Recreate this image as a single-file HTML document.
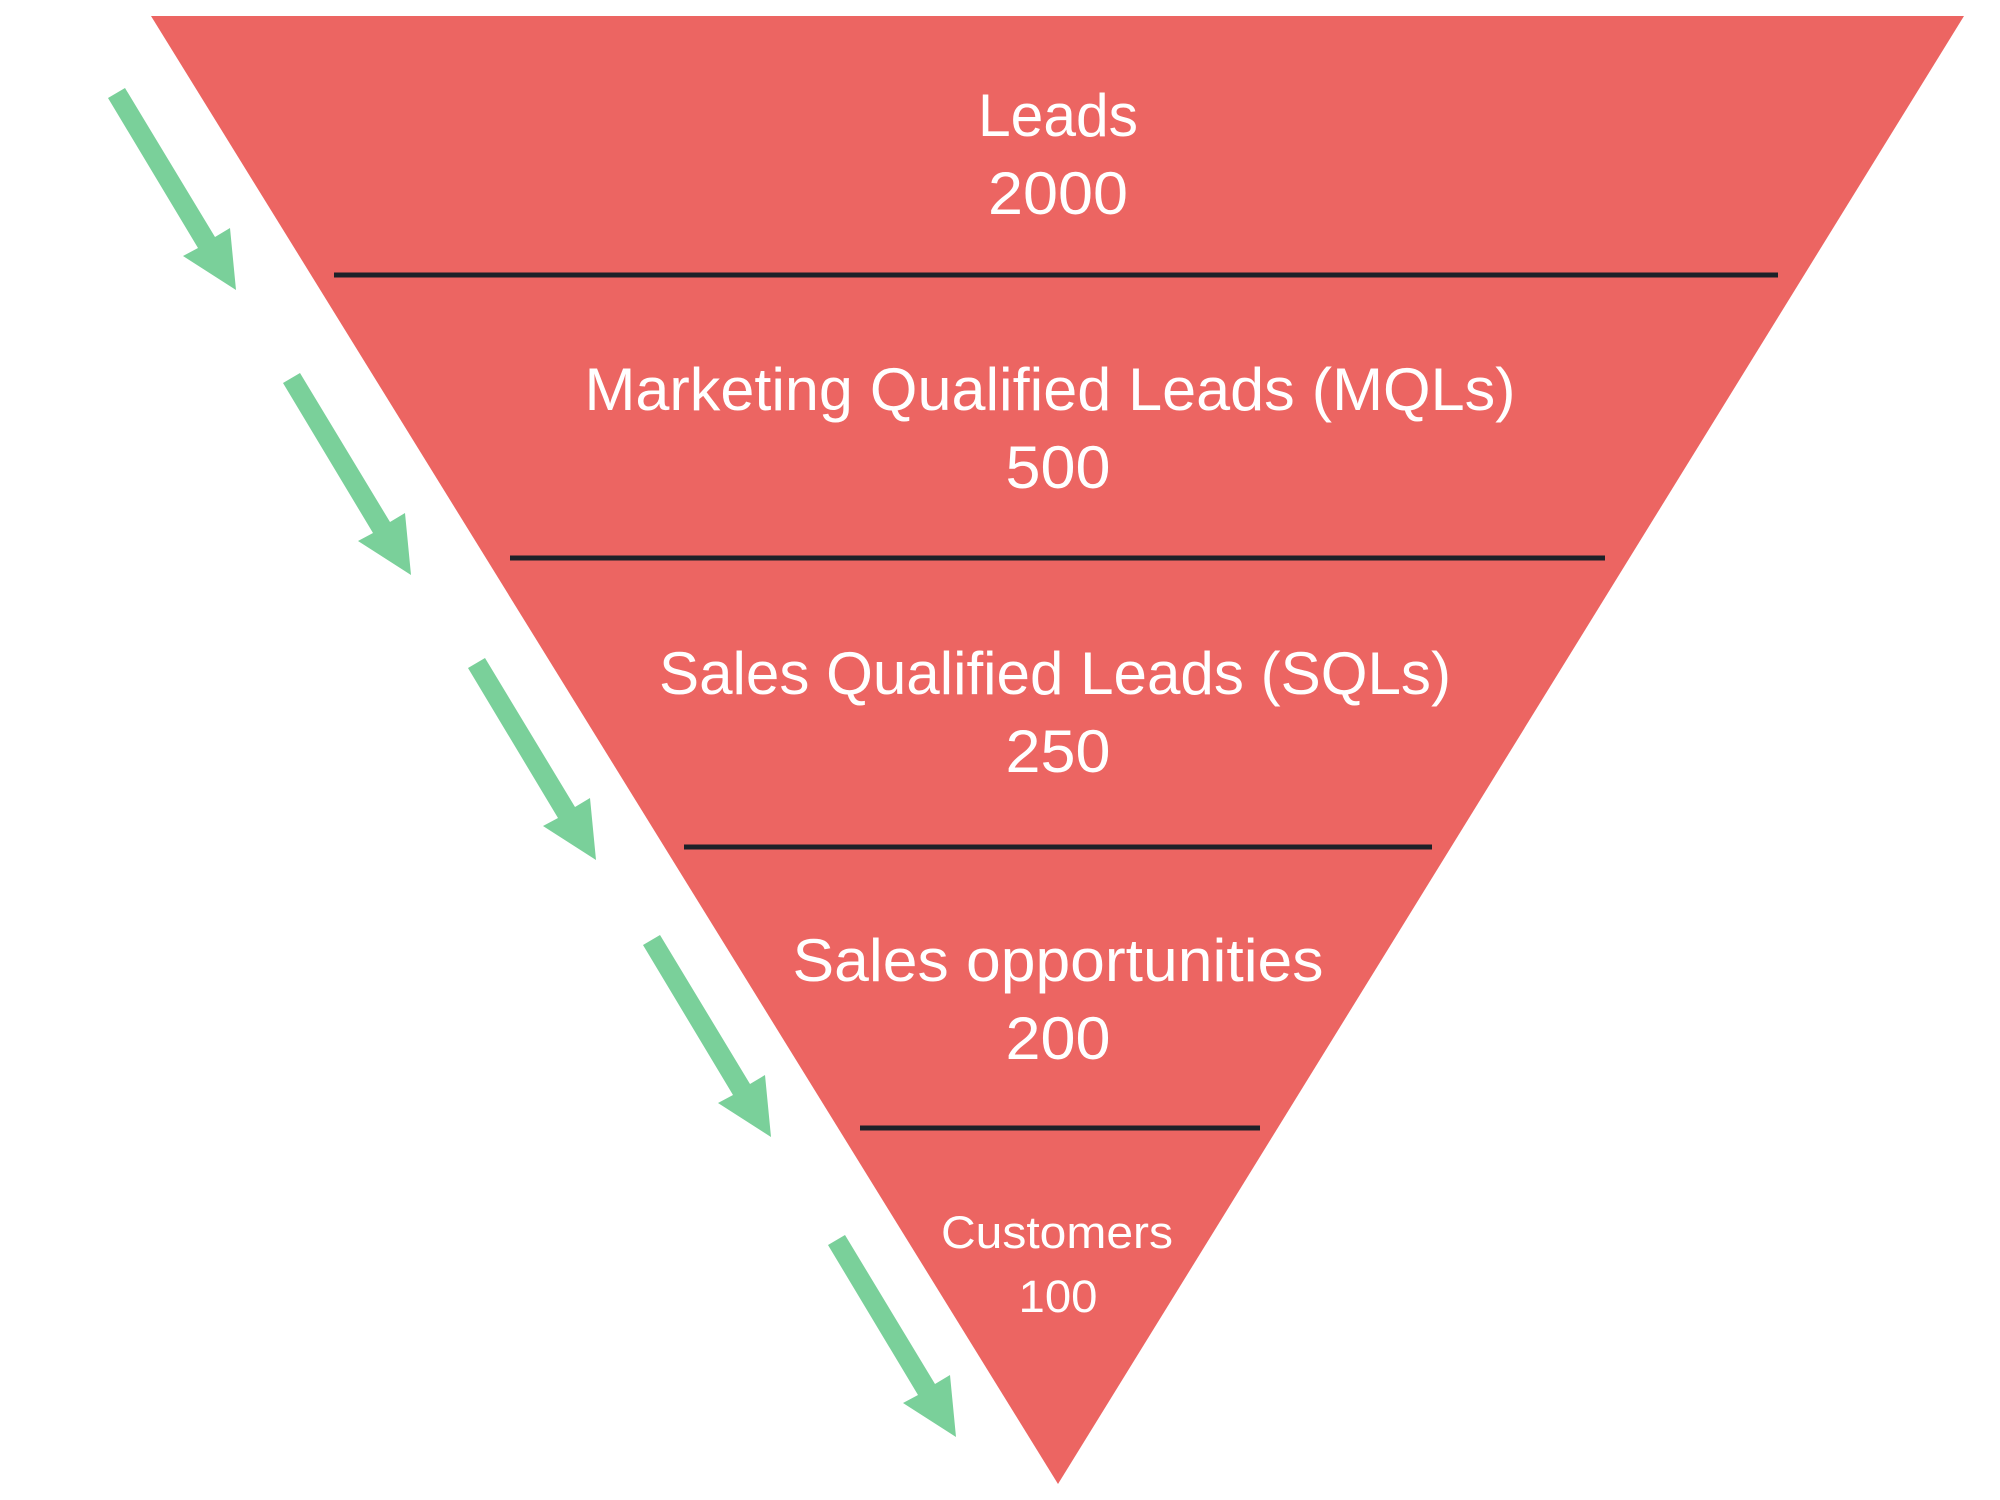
<!DOCTYPE html>
<html><head><meta charset="utf-8"><style>html,body{margin:0;padding:0;background:#fff}svg{display:block}</style></head>
<body>
<svg width="2000" height="1500" viewBox="0 0 2000 1500" xmlns="http://www.w3.org/2000/svg">
<polygon points="151,16 1964,16 1058,1484" fill="#EC6562"/>
<g stroke="#1D2128" stroke-width="5">
<line x1="334" y1="275" x2="1778" y2="275"/>
<line x1="510" y1="558" x2="1605" y2="558"/>
<line x1="684" y1="847" x2="1432" y2="847"/>
<line x1="860" y1="1128" x2="1260" y2="1128"/>
</g>
<g fill="#7AD09A">
<polygon id="a" points="108,98 198,248 183,256 236,290 230,228 215,237 125,88"/>
<use href="#a" x="175" y="285"/>
<use href="#a" x="360" y="570"/>
<use href="#a" x="535" y="847"/>
<use href="#a" x="720" y="1147"/>
</g>
<g fill="#fff" font-family="Liberation Sans, sans-serif" text-anchor="middle">
<text x="1058" y="136" font-size="60" textLength="160" lengthAdjust="spacingAndGlyphs">Leads</text>
<text x="1058" y="214" font-size="60" textLength="140" lengthAdjust="spacingAndGlyphs">2000</text>
<text x="1050" y="410" font-size="60" textLength="931" lengthAdjust="spacingAndGlyphs">Marketing Qualified Leads (MQLs)</text>
<text x="1058" y="488" font-size="60" textLength="105" lengthAdjust="spacingAndGlyphs">500</text>
<text x="1055" y="694" font-size="60" textLength="792" lengthAdjust="spacingAndGlyphs">Sales Qualified Leads (SQLs)</text>
<text x="1058" y="772" font-size="60" textLength="105" lengthAdjust="spacingAndGlyphs">250</text>
<text x="1058" y="981" font-size="60" textLength="531" lengthAdjust="spacingAndGlyphs">Sales opportunities</text>
<text x="1058" y="1059" font-size="60" textLength="105" lengthAdjust="spacingAndGlyphs">200</text>
<text x="1057" y="1248" font-size="45" textLength="232" lengthAdjust="spacingAndGlyphs">Customers</text>
<text x="1058" y="1312" font-size="45" textLength="79" lengthAdjust="spacingAndGlyphs">100</text>
</g>
</svg>
</body></html>
